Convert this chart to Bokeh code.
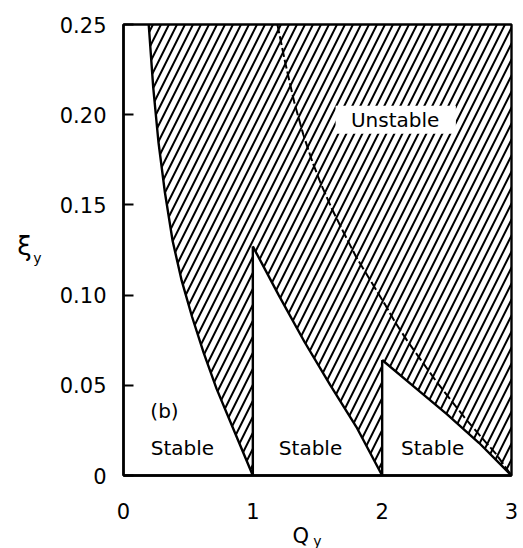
from bokeh.plotting import figure
from bokeh.models import Label, FixedTicker, Range1d
from bokeh.embed import file_html
from bokeh.resources import INLINE

# ---- data ----
x_ticks = [0, 1, 2, 3]
x_tick_labels = ["0", "1", "2", "3"]
y_ticks = [0, 0.05, 0.10, 0.15, 0.20, 0.25]
y_tick_labels = ["0", "0.05", "0.10", "0.15", "0.20", "0.25"]

# stability boundaries (Q_y, xi_y)
b1_q = [0.195, 0.23, 0.27, 0.32, 0.38, 0.45, 0.53, 0.62, 0.72, 0.86, 1.0]
b1_xi = [0.25, 0.215, 0.185, 0.157, 0.130, 0.108, 0.088, 0.068, 0.048, 0.024, 0.0]
b2_q = [1.0, 1.2, 1.4, 1.6, 1.8, 2.0]
b2_xi = [0.127, 0.100, 0.074, 0.050, 0.027, 0.0]
b3_q = [2.0, 2.25, 2.5, 2.75, 3.0]
b3_xi = [0.064, 0.049, 0.034, 0.018, 0.0]

# dashed curve
dash_q = [1.19, 1.25, 1.32, 1.39, 1.46, 1.53, 1.61, 1.70, 1.80, 1.91, 2.02,
          2.10, 2.20, 2.30, 2.42, 2.54, 2.65, 2.77, 2.88, 3.0]
dash_xi = [0.25, 0.229, 0.207, 0.189, 0.174, 0.161, 0.148, 0.135, 0.121, 0.108,
           0.095, 0.085, 0.074, 0.064, 0.052, 0.041, 0.031, 0.021, 0.012, 0.0]

x_min, x_max = 0, 3
y_min, y_max = 0, 0.25

FONT = "DejaVu Sans"
W, H = 523, 548
# frame placement (pixels): data box from x=123..511, y=24..475 (from top)
PX_L, PX_R, PX_T, PX_B = 123, 511, 24, 475
sx = (PX_R - PX_L) / (x_max - x_min)
sy = (PX_B - PX_T) / (y_max - y_min)
xr = Range1d(x_min - PX_L / sx, x_min - PX_L / sx + W / sx)
yr = Range1d(y_min - (H - PX_B) / sy, y_min - (H - PX_B) / sy + H / sy)

p = figure(width=W, height=H, output_backend="svg", toolbar_location=None,
           x_range=xr, y_range=yr, min_border=0)
p.background_fill_color = "white"
p.border_fill_color = "white"
p.grid.visible = False
p.outline_line_color = None

# unstable (hatched) region
poly_q = [b1_q[0], x_max, x_max] + b3_q[::-1] + [b3_q[0]] + b2_q[::-1] + [b2_q[0]] + b1_q[::-1]
poly_xi = [y_max, y_max, y_min] + b3_xi[::-1] + [y_min] + b2_xi[::-1] + [y_min] + b1_xi[::-1]
p.patch(poly_q, poly_xi, fill_color="white", fill_alpha=0.0, line_color=None,
        hatch_pattern="/", hatch_color="black", hatch_scale=16, hatch_weight=2)

# boundary lines
for qs, xs in [(b1_q, b1_xi), (b2_q, b2_xi), (b3_q, b3_xi)]:
    p.line(qs, xs, line_color="black", line_width=2.4)
p.line([b2_q[0], b2_q[0]], [y_min, b2_xi[0]], line_color="black", line_width=2.4)
p.line([b3_q[0], b3_q[0]], [y_min, b3_xi[0]], line_color="black", line_width=2.4)

# dashed curve
p.line(dash_q, dash_xi, line_color="black", line_width=2, line_dash="9 3")

# white box behind "Unstable"
p.quad(left=[1.64], right=[2.57], bottom=[0.1895], top=[0.205],
       fill_color="white", line_color=None)

# plot box
p.quad(left=[x_min], right=[x_max], bottom=[y_min], top=[y_max],
       fill_color=None, line_color="black", line_width=2.4)

# axes pinned to the data box
p.xaxis.fixed_location = y_min
p.yaxis.fixed_location = x_min
p.xaxis.bounds = (x_min, x_max)
p.yaxis.bounds = (y_min, y_max)
p.xaxis.ticker = FixedTicker(ticks=x_ticks)
p.xaxis.major_label_overrides = {t: l for t, l in zip(x_ticks, x_tick_labels)}
p.yaxis.ticker = FixedTicker(ticks=y_ticks)
p.yaxis.major_label_overrides = {t: l for t, l in zip(y_ticks, y_tick_labels)}
for ax in (p.xaxis, p.yaxis):
    ax.axis_line_color = "black"
    ax.axis_line_width = 2.4
    ax.minor_tick_line_color = None
    ax.major_label_text_font = FONT
    ax.major_label_text_font_size = "21px"
    ax.major_label_text_color = "black"
p.xaxis.major_tick_line_color = None
p.xaxis.major_tick_out = 0
p.xaxis.major_label_standoff = 27
p.yaxis.major_tick_in = 10
p.yaxis.major_tick_out = 0
p.yaxis.major_tick_line_width = 2
p.yaxis.major_tick_line_color = "black"
p.yaxis.major_label_standoff = 17

def lab(x, y, t, size, align="center", base="middle"):
    p.add_layout(Label(x=x, y=y, text=t, text_font=FONT, text_font_size=size,
                       text_color="black", text_align=align, text_baseline=base))

lab(2.10, 0.197, "Unstable", "20px")
lab(0.456, 0.015, "Stable", "20px")
lab(1.446, 0.015, "Stable", "20px")
lab(2.39, 0.015, "Stable", "20px")
lab(0.317, 0.036, "(b)", "20px")

# axis titles (Q_y and xi_y with subscripts)
lab(1.37, -0.0335, "Q", "21px")
lab(1.50, -0.0365, "y", "14px")
lab(-0.765, 0.127, "ξ", "26px")
lab(-0.665, 0.1205, "y", "14px")

open("out.html", "w").write(file_html(p, INLINE))
